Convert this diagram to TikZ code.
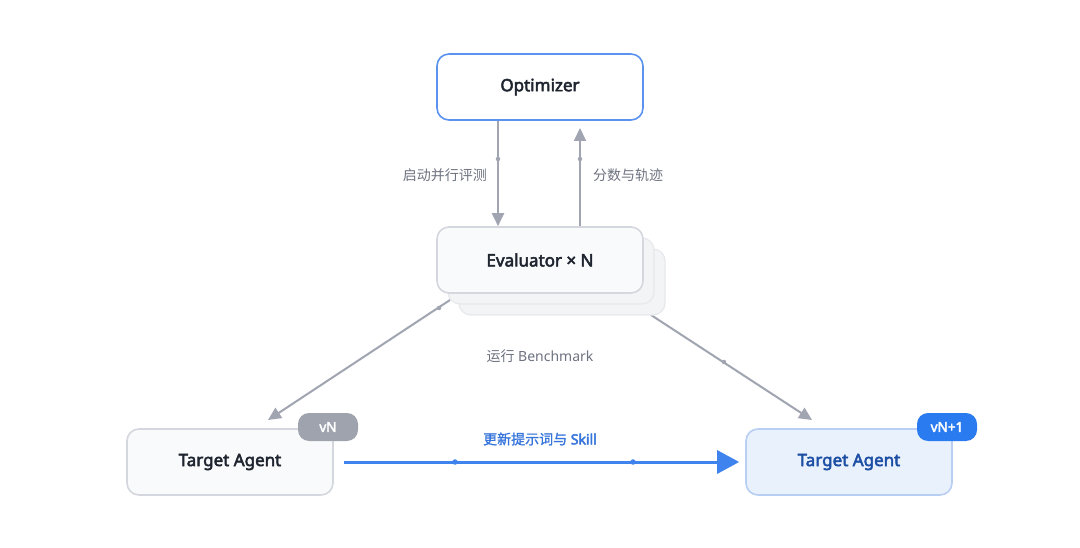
\documentclass[tikz,border=0pt]{standalone}
\usepackage{fontspec}
\setmainfont{Noto Sans}[AutoFakeBold=3]
\newfontfamily\cjk{Noto Sans CJK SC}[AutoFakeBold=1.2]
\usetikzlibrary{arrows.meta}
\definecolor{optborder}{HTML}{5B93EE}
\definecolor{grayline}{HTML}{A1A5B2}
\definecolor{graybd}{HTML}{D4D7DD}
\definecolor{grayfill}{HTML}{F9FAFB}
\definecolor{layerfill}{HTML}{F3F4F6}
\definecolor{layerbd}{HTML}{E6E8EC}
\definecolor{darktext}{HTML}{1F2530}
\definecolor{labelgray}{HTML}{6E7380}
\definecolor{blueline}{HTML}{3F83EE}
\definecolor{bluefill}{HTML}{E9F1FD}
\definecolor{bluebd}{HTML}{B9CEF3}
\definecolor{bluetext}{HTML}{1D4FA5}
\definecolor{bluelabel}{HTML}{3574DB}
\definecolor{badgeblue}{HTML}{2B7BF0}
\definecolor{badgegray}{HTML}{9EA3AE}
\tikzset{
  box/.style={rounded corners=12pt, minimum width=206pt, minimum height=66pt, line width=1.6pt, inner sep=0pt,
    font=\fontsize{17}{20}\selectfont\bfseries, text=darktext},
  layer/.style={rounded corners=12pt, minimum width=206pt, minimum height=66pt, line width=1.2pt, draw=layerbd, fill=layerfill},
  badge/.style={rounded corners=11pt, minimum width=60pt, minimum height=28pt, inner sep=0pt, text=white,
    font=\fontsize{13.5}{15}\selectfont\bfseries},
  garrow/.style={draw=grayline, line width=2pt, -{Triangle[length=13pt,width=12pt]}},
  gdot/.style={circle, fill=grayline, inner sep=0pt, minimum size=4.5pt},
  bdot/.style={circle, fill=blueline, inner sep=0pt, minimum size=5.5pt},
  lbl/.style={font=\fontsize{14}{17}\selectfont, text=labelgray, inner sep=0pt},
}
\begin{document}
\begin{tikzpicture}[x=1pt,y=-1pt]
\useasboundingbox (0,0) rectangle (1080,548);
\fill[white] (0,0) rectangle (1080,548);

% coordinates for diagonal connectors
\coordinate (dlS) at (450,300);
\coordinate (dlE) at (268,420);
\coordinate (drS) at (651,315);
\coordinate (drE) at (812,420);
\coordinate (upE) at (580,128);

% diagonal connectors (behind evaluator stack)
\draw[garrow] (dlS) -- (dlE);
\draw[garrow] (drS) -- (drE);
\node[gdot] (dl) at (439,308) {};
\node[gdot] (dr) at (724,362) {};

% evaluator stack
\node[layer] (ev3) at (562,282) {};
\node[layer] (ev2) at (551,271) {};
\node[box, draw=graybd, fill=grayfill] (ev) at (540,260) {Evaluator × N};

% optimizer
\node[box, draw=optborder, fill=white] (opt) at (540,87) {Optimizer};

% vertical connectors
\draw[garrow] (opt.south -| 498,0) -- (ev.north -| 498,0);
\draw[garrow] (ev.north -| 580,0) -- (upE);
\node[gdot] (d1) at (498,159) {};
\node[gdot] (d2) at (580,159) {};
\node[lbl, anchor=east] (l1) at (487,175) {\cjk 启动并行评测};
\node[lbl, anchor=west] (l2) at (593,175) {\cjk 分数与轨迹};

% benchmark label
\node[lbl] (l3) at (540,356) {{\cjk 运行} Benchmark};

% target agents
\node[box, draw=graybd, fill=grayfill] (ta) at (230,462) {Target Agent};
\node[box, draw=bluebd, fill=bluefill, text=bluetext] (tb) at (849,462) {Target Agent};
\node[badge, fill=badgegray] (bva) at (328,427) {vN};
\node[badge, fill=badgeblue] (bvb) at (947,427) {vN+1};

% update arrow
\draw[draw=blueline, line width=3pt, -{Triangle[length=22pt,width=23pt]}] ([xshift=10pt]ta.east) -- ([xshift=-6pt]tb.west);
\node[bdot] (b1) at (455,462) {};
\node[bdot] (b2) at (633,462) {};
\node[font=\fontsize{14}{16}\selectfont\bfseries, text=bluelabel, inner sep=0pt] (l4) at (540,439) {{\cjk 更新提示词与} Skill};
\end{tikzpicture}
\end{document}
